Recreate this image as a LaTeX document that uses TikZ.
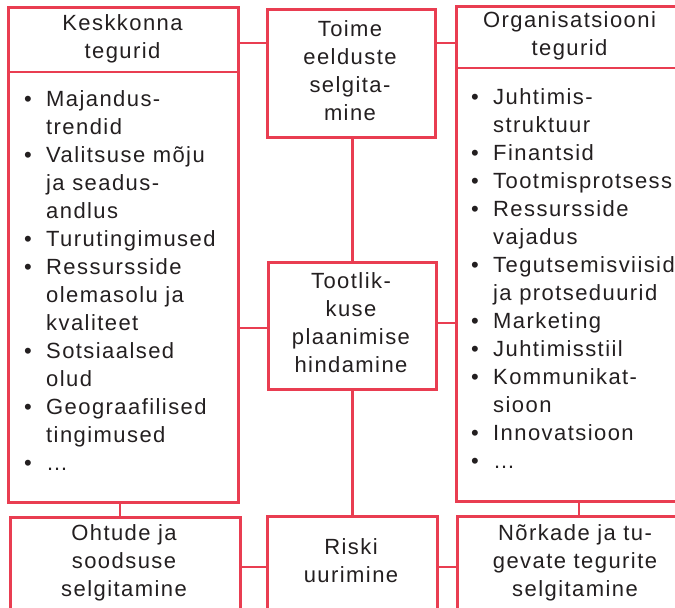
\documentclass[tikz,border=0pt]{standalone}
\usepackage{fontspec}
\setmainfont{Liberation Sans}[LetterSpace=6.5]
\definecolor{framered}{RGB}{233,61,81}
\definecolor{inkgray}{RGB}{35,31,32}
\newcommand\bulletmark{\makebox[22pt][l]{\textbullet}}
\newcommand\hangsp{\hspace*{22pt}}
\tikzset{
  box/.style={draw=framered, line width=2.7pt, rectangle, inner sep=0pt, anchor=north west},
  link/.style={draw=framered, line width=2.7pt},
  txt/.style={inner sep=0pt, text=inkgray, font=\fontsize{22}{28}\selectfont},
}
\begin{document}
\begin{tikzpicture}[x=1pt, y=-1pt]
\useasboundingbox (0,0) rectangle (675,608);
\clip (0,0) rectangle (675,608);

% frames
\node[box, minimum width=230pt, minimum height=495pt] (env) at (7,6) {};
\node[box, minimum width=168pt, minimum height=128pt] (pre) at (266,8) {};
\node[box, minimum width=240pt, minimum height=495pt] (org) at (455,5) {};
\node[box, minimum width=168pt, minimum height=127pt] (eval) at (267,261) {};
\node[box, minimum width=230pt, minimum height=110pt] (thr) at (9,516) {};
\node[box, minimum width=170pt, minimum height=110pt] (risk) at (266,515) {};
\node[box, minimum width=240pt, minimum height=110pt] (swk) at (456,515) {};

% header dividers
\draw[link] ([yshift=-66pt]env.north west) -- ([yshift=-66pt]env.north east);
\draw[link] ([yshift=-63pt]org.north west) -- ([yshift=-63pt]org.north east);

% connectors
\draw[link] ([yshift=-35pt]pre.north west) -- ([yshift=-35pt]pre.north west -| env.east);
\draw[link] ([yshift=-35pt]pre.north east) -- ([yshift=-35pt]pre.north east -| org.west);
\draw[link] (pre.south -| eval.north) -- (eval.north);
\draw[link] ([yshift=-67pt]eval.north west) -- ([yshift=-67pt]eval.north west -| env.east);
\draw[link] ([yshift=-62pt]eval.north east) -- ([yshift=-62pt]eval.north east -| org.west);
\draw[link] (eval.south) -- (eval.south |- risk.north);
\draw[link] ([xshift=113pt]env.south west) -- ([xshift=113pt]env.south west |- thr.north);
\draw[link] ([yshift=-51pt]thr.north east) -- ([yshift=-51pt]thr.north east -| risk.west);
\draw[link] ([yshift=-52pt]risk.north east) -- ([yshift=-52pt]risk.north east -| swk.west);
\draw[link] ([xshift=124pt]org.south west) -- ([xshift=124pt]org.south west |- swk.north);

% headings and box texts
\node[txt, anchor=base] (envh) at (122.5,30) {\parbox[t]{220pt}{\centering Keskkonna\\tegurid}};
\node[txt, anchor=base] (orgh) at (569.5,27) {\parbox[t]{220pt}{\centering Organisatsiooni\\tegurid}};
\node[txt, anchor=base] (pret) at (350,36) {\parbox[t]{160pt}{\centering Toime\\eelduste\\selgita-\\mine}};
\node[txt, anchor=base] (evalt) at (351,288) {\parbox[t]{160pt}{\centering Tootlik-\\kuse\\plaanimise\\hindamine}};
\node[txt, anchor=base] (thrt) at (124,540) {\parbox[t]{220pt}{\centering Ohtude ja\\soodsuse\\selgitamine}};
\node[txt, anchor=base] (riskt) at (351,554) {\parbox[t]{160pt}{\centering Riski\\uurimine}};
\node[txt, anchor=base] (swkt) at (575,540) {\parbox[t]{220pt}{\centering Nõrkade ja tu-\\gevate tegurite\\selgitamine}};

% factor lists
\node[txt, anchor=base west] (envl) at (24,106) {\parbox[t]{260pt}{\raggedright
\bulletmark Majandus-\\
\hangsp trendid\\
\bulletmark Valitsuse mõju\\
\hangsp ja seadus-\\
\hangsp andlus\\
\bulletmark Turutingimused\\
\bulletmark Ressursside\\
\hangsp olemasolu ja\\
\hangsp kvaliteet\\
\bulletmark Sotsiaalsed\\
\hangsp olud\\
\bulletmark Geograafilised\\
\hangsp tingimused\\
\bulletmark …}};
\node[txt, anchor=base west] (orgl) at (471,104) {\parbox[t]{260pt}{\raggedright
\bulletmark Juhtimis-\\
\hangsp struktuur\\
\bulletmark Finantsid\\
\bulletmark Tootmisprotsess\\
\bulletmark Ressursside\\
\hangsp vajadus\\
\bulletmark Tegutsemisviisid\\
\hangsp ja protseduurid\\
\bulletmark Marketing\\
\bulletmark Juhtimisstiil\\
\bulletmark Kommunikat-\\
\hangsp sioon\\
\bulletmark Innovatsioon\\
\bulletmark …}};
\end{tikzpicture}
\end{document}
